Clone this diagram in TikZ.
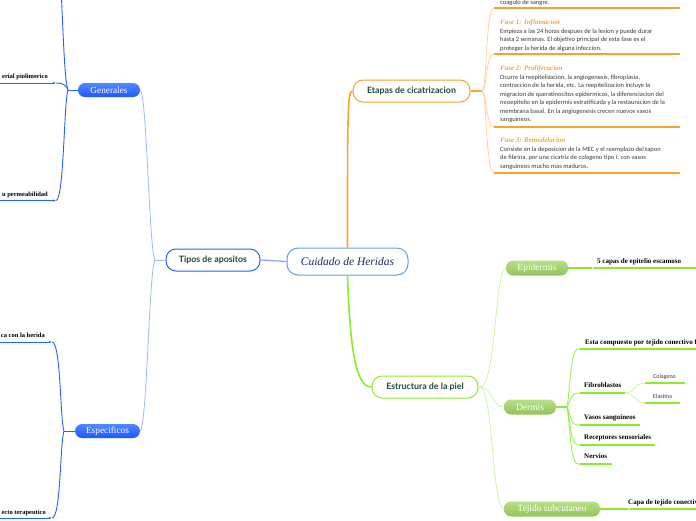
\documentclass[tikz,border=0pt]{standalone}
\usepackage{fontspec}
\setmainfont{Liberation Serif}
\newfontfamily\bodyf{Carlito}
\newfontfamily\headf{Lato}
\usetikzlibrary{arrows.meta}
\definecolor{orng}{HTML}{F6A52A}
\definecolor{lorng}{HTML}{FBD49A}
\definecolor{blu}{HTML}{2A5FFF}
\definecolor{lblu}{HTML}{9FB8FF}
\definecolor{rootblue}{HTML}{5EA0DF}
\definecolor{navy}{HTML}{1C2A55}
\definecolor{lime}{HTML}{8CEB2A}
\definecolor{llime}{HTML}{CDF5A3}
\definecolor{dgreen}{HTML}{1F4A3E}
\definecolor{gtop}{HTML}{B9DE88}
\definecolor{gbot}{HTML}{93C45C}
\definecolor{btop}{HTML}{4E88FF}
\definecolor{bbot}{HTML}{1D58FF}
\definecolor{tgray}{HTML}{3A3A3A}
\begin{document}
\begin{tikzpicture}[x=1pt,y=-1pt,
  rootbox/.style={draw=rootblue, line width=1pt, rounded corners=11pt, fill=white,
    minimum width=121pt, minimum height=27pt, inner sep=0pt,
    font=\itshape\fontsize{11.5}{13}\selectfont, text=navy},
  mainbox/.style={draw, line width=1pt, rounded corners=10pt, fill=white,
    minimum height=22pt, inner sep=0pt,
    font=\headf\bfseries\fontsize{8.8}{10}\selectfont, text=dgreen},
  greenbox/.style={rounded corners=7pt, top color=gtop, bottom color=gbot,
    minimum height=15pt, inner sep=0pt, text=white, font=\fontsize{9.5}{10}\selectfont},
  bluebox/.style={rounded corners=7pt, top color=btop, bottom color=bbot,
    minimum height=14pt, inner sep=0pt, text=white, font=\fontsize{9.3}{10}\selectfont},
  lbl/.style={font=\bfseries\fontsize{7}{8}\selectfont, inner sep=0pt, text=black},
  leftlbl/.style={font=\bfseries\fontsize{6.5}{8}\selectfont, inner sep=0pt, text=black, anchor=base east},
  smalltxt/.style={font=\bodyf\fontsize{6}{7}\selectfont, inner sep=0pt, text=tgray, anchor=base west},
  bodytxt/.style={font=\bodyf\fontsize{6.5}{8.5}\selectfont, text=tgray, inner sep=0pt,
    align=left, anchor=north west},
  fasetitle/.style={font=\itshape\bfseries\fontsize{7}{8}\selectfont, text=orng,
    inner sep=0pt, anchor=base west},
  tip/.style={-{Latex[length=3pt,width=2.4pt]}},
  bconn/.style={draw=blu, line width=0.9pt},
  gconn/.style={draw=lime, line width=1.3pt},
  oline/.style={draw=orng, line width=1.5pt},
  oconn/.style={draw=lorng, line width=0.8pt},
  lgconn/.style={draw=llime, line width=0.8pt},
  lbconn/.style={draw=lblu, line width=0.8pt}
]
\useasboundingbox (0,0) rectangle (696,520);

% ---------- main nodes ----------
\node[rootbox] (root) at (347.5,261.5) {Cuidado de Heridas};
\node[mainbox, draw=blu, minimum width=94pt] (tipos) at (213,260) {Tipos de apositos};
\node[mainbox, draw=orng, minimum width=117pt] (etapas) at (411.5,91) {Etapas de cicatrizacion};
\node[mainbox, draw=lime, minimum width=106pt] (estr) at (425,387) {Estructura de la piel};

\node[greenbox, minimum width=62pt] (epi) at (537,268) {Epidermis};
\node[greenbox, minimum width=52pt] (der) at (530,407) {Dermis};
\node[greenbox, minimum width=96pt] (tej) at (552,509) {Tejido subcutaneo};

\node[bluebox, minimum width=62pt] (gen) at (109,90) {Generales};
\node[bluebox, minimum width=65pt] (esp) at (107.5,431) {Especificos};

% ---------- root connectors ----------
\draw[draw=lblu!80!blu, line width=1.2pt] (root.west) -- (tipos.east);
\draw[draw=orng, line width=1.6pt] (root.north) .. controls (347.5,110) and (347.5,91) .. (etapas.west);
\draw[draw=lime, line width=1.6pt] (root.south) .. controls (350,345) and (355,387) .. (estr.west);

% ---------- Tipos de apositos ----------
\coordinate (tj) at (155,260);
\draw[lbconn] (tipos.west) -- (tj);
\draw[lbconn] (tj) .. controls (149,250) and (147,95) .. (gen.east);
\draw[lbconn] (tj) .. controls (149,270) and (147,426) .. (esp.east);

% Generales children
\coordinate (gj) at (68,90);
\coordinate (gtopc) at (60,-30);
\coordinate (g1) at (56,83);
\coordinate (g2) at (56,200.5);
\draw[bconn] (gen.west) -- (gj);
\draw[bconn] (gj) .. controls (64,80) and (63,20) .. (gtopc);
\draw[bconn] (gj) .. controls (66,85) and (63,83) .. (g1);
\draw[bconn] (gj) .. controls (64,100) and (64,200.5) .. (g2);
\draw[bconn, tip] (-5,83) -- (g1);
\draw[bconn, tip] (-5,200.5) -- (g2);
\node[leftlbl] (gt1) at (48,78) {erial piolimerico};
\node[leftlbl] (gt2) at (48,196) {u permeabilidad};

% Especificos children
\coordinate (ej) at (64,431);
\coordinate (e1) at (52,342);
\coordinate (e2) at (52,518);
\draw[bconn] (esp.west) -- (ej);
\draw[bconn] (ej) .. controls (60,420) and (61,342) .. (e1);
\draw[bconn] (ej) .. controls (60,442) and (61,518) .. (e2);
\draw[bconn, tip] (-5,342) -- (e1);
\draw[bconn, tip] (-5,518) -- (e2);
\node[leftlbl] (et1) at (45,337) {ca con la herida};
\node[leftlbl] (et2) at (46,514) {ecto terapeutico};

% ---------- Etapas de cicatrizacion ----------
\coordinate (oj) at (482,91);
\draw[draw=orng, line width=1.5pt] (etapas.east) -- (oj);
\foreach \yy/\nm in {8/h0, 54/h1, 127/h2, 173/h3}{
  \coordinate (\nm) at (494,\yy);
  \draw[oconn] (oj) .. controls (487,91) and (485.5,\yy) .. (\nm);
  \draw[oline] (\nm) -- (680,\yy);
}
\node[smalltxt, font=\bodyf\fontsize{6.5}{8.5}\selectfont] (t0) at (500,4) {coagulo de sangre.};

\node[fasetitle] (f1) at (500,24.5) {Fase 1: Inflamacion};
\node[bodytxt] (b1) at (500,28.5) {Empieza a las 24 horas despues de la lesion y puede durar\\
hasta 2 semanas. El objetivo principal de esta fase es el\\
proteger la herida de alguna infeccion.};

\node[fasetitle] (f2) at (500,70.5) {Fase 2: Proliferacion};
\node[bodytxt] (b2) at (500,74.5) {Ocurre la reepitelizacion, la angiogenesis, fibroplasia,\\
contraccion de la herida, etc. La reepitelizacion incluye la\\
migracion de queratinocitos epidermicos, la diferenciacion del\\
neoepitelio en la epidermis estratificada y la restauracion de la\\
membrana basal. En la angiogenesis crecen nuevos vasos\\
sanguineos.};

\node[fasetitle] (f3) at (500,142.5) {Fase 3: Remodelacion};
\node[bodytxt] (b3) at (500,146.5) {Consiste en la deposicion de la MEC y el reemplazo del tapon\\
de fibrina, por una cicatriz de colageno tipo I, con vasos\\
sanguineos mucho mas maduros.};

% ---------- Estructura de la piel ----------
\coordinate (sj) at (480,387);
\draw[lgconn] (estr.east) -- (sj);
\draw[lgconn] (sj) .. controls (496,387) and (495,268) .. (epi.west);
\draw[lgconn] (sj) .. controls (492,387) and (492,407) .. (der.west);
\draw[lgconn] (sj) .. controls (493,387) and (492,509) .. (tej.west);

% Epidermis child
\coordinate (ep1) at (592,268);
\draw[gconn, tip] (700,268) -- (ep1);
\draw[gconn] (epi.east) -- (ep1);
\node[lbl, anchor=base west] (ept) at (597,263) {5 capas de epitelio escamoso};

% Dermis children
\coordinate (dj) at (566,407);
\draw[draw=lime, line width=2pt] (der.east) -- (dj);
\foreach \yy/\xe/\nm in {349/700/d1, 393/625/d2, 425/640/d3, 445/655/d4, 464/612/d5}{
  \coordinate (\nm) at (578,\yy);
  \draw[draw=lime!70!llime, line width=0.9pt] (dj) .. controls (570,407) and (569,\yy) .. (\nm);
  \draw[gconn, tip] (\xe,\yy) -- (\nm);
}
\node[lbl, anchor=base west] (dt1) at (585,344.5) {Esta compuesto por tejido conectivo fibroso};
\node[lbl, anchor=base west] (dt2) at (584,387) {Fibroblastos};
\node[lbl, anchor=base west] (dt3) at (584,419.5) {Vasos sanguineos};
\node[lbl, anchor=base west] (dt4) at (584,439.5) {Receptores sensoriales};
\node[lbl, anchor=base west] (dt5) at (584,458.5) {Nervios};

% Fibroblastos children
\coordinate (fe) at (625,393);
\coordinate (c1) at (645,383);
\coordinate (c2) at (645,403);
\draw[lgconn] (fe) .. controls (636,393) and (634,383) .. (c1);
\draw[lgconn] (fe) .. controls (636,393) and (634,403) .. (c2);
\draw[gconn] (c1) -- (685,383);
\draw[gconn] (c2) -- (680,403);
\node[smalltxt] (col) at (653,378) {Colageno};
\node[smalltxt] (ela) at (653,398.5) {Elastina};

% Tejido child
\coordinate (tj1) at (628,509);
\draw[gconn, tip] (700,509) -- (tj1);
\draw[gconn] (tej.east) -- (tj1);
\node[lbl, anchor=base west] (tt) at (628,504) {Capa de tejido conectivo};
\end{tikzpicture}
\end{document}
